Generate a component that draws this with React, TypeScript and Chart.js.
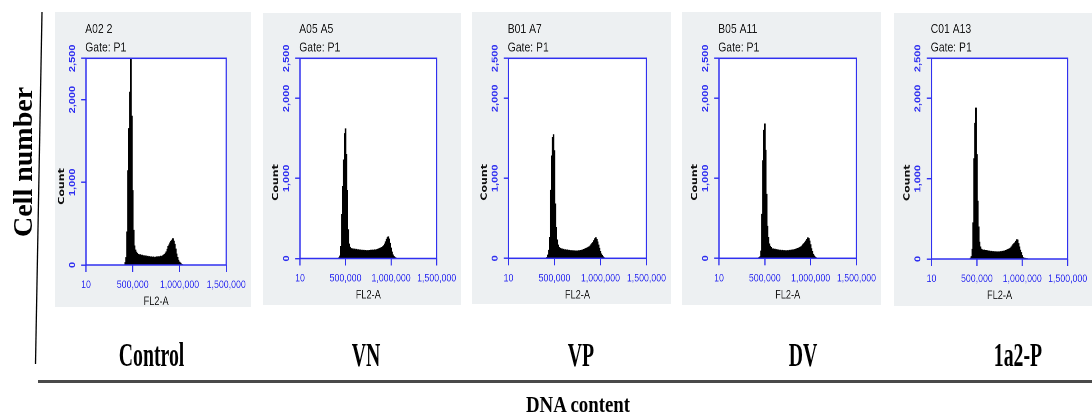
import React, { useEffect, useRef } from 'react';
import { Chart, registerables } from 'chart.js';

Chart.register(...registerables);

// ---------- DATA ----------
// FL2-A bin centres, in thousands
const binCentersK = [
  400, 410, 420, 430, 440, 450, 460, 470, 480, 490,
  500, 510, 520, 530, 540, 550, 560, 570, 580, 590,
  600, 610, 620, 630, 640, 650, 660, 670, 680, 690,
  700, 710, 720, 730, 740, 750, 760, 770, 780, 790,
  800, 810, 820, 830, 840, 850, 860, 870, 880, 890,
  900, 910, 920, 930, 940, 950, 960, 970, 980, 990,
  1000, 1010, 1020, 1030, 1040, 1050, 1060, 1070,
];

const controlCounts = [
  0, 0, 30, 90, 400, 1140, 1650, 2090, 2800, 1800,
  900, 420, 230, 180, 155, 140, 128, 118, 124, 112,
  119, 106, 113, 101, 109, 98, 105, 96, 102, 93,
  99, 91, 97, 89, 95, 92, 99, 93, 101, 96,
  106, 102, 111, 120, 128, 142, 160, 190, 225, 242,
  266, 286, 300, 318, 288, 250, 192, 132, 92, 56,
  36, 25, 12, 5, 0, 0, 0, 0,
];

const vnCounts = [
  0, 0, 0, 10, 30, 150, 550, 900, 1230, 1560,
  1620, 1300, 850, 360, 180, 140, 124, 116, 121, 110,
  117, 108, 114, 104, 110, 101, 106, 98, 104, 97,
  102, 95, 100, 94, 99, 96, 101, 97, 103, 99,
  105, 101, 108, 104, 110, 113, 118, 122, 127, 132,
  138, 148, 160, 180, 208, 240, 262, 270, 242, 190,
  130, 80, 45, 25, 15, 8, 0, 0,
];

const vpCounts = [
  0, 0, 10, 40, 100, 260, 850, 1280, 1510, 1545,
  1345, 680, 385, 230, 165, 135, 124, 113, 118, 107,
  112, 102, 108, 98, 104, 95, 100, 92, 97, 90,
  95, 88, 93, 87, 92, 89, 95, 91, 98, 94,
  101, 105, 110, 116, 121, 127, 133, 138, 145, 156,
  170, 185, 198, 220, 245, 258, 236, 205, 165, 125,
  85, 55, 35, 18, 8, 0, 0, 0,
];

const dvCounts = [
  0, 0, 0, 0, 10, 20, 90, 550, 1220, 1600,
  1680, 1350, 800, 400, 260, 180, 150, 135, 114, 118,
  108, 113, 103, 109, 99, 104, 96, 101, 94, 99,
  92, 97, 90, 95, 92, 97, 94, 100, 96, 103,
  99, 106, 103, 110, 114, 118, 123, 128, 134, 140,
  147, 160, 175, 186, 200, 216, 236, 256, 246, 215,
  170, 120, 85, 50, 30, 15, 8, 0,
];

const a2pCounts = [
  0, 0, 0, 10, 30, 120, 450, 1250, 1690, 1880,
  1300, 720, 400, 210, 150, 122, 114, 106, 111, 101,
  107, 97, 103, 94, 99, 91, 96, 88, 93, 86,
  91, 85, 90, 84, 89, 87, 92, 89, 95, 92,
  98, 101, 106, 111, 117, 122, 128, 134, 148, 163,
  178, 190, 202, 220, 240, 236, 192, 150, 110, 80,
  42, 16, 10, 8, 6, 5, 0, 0,
];

const xTickValuesK = [0, 500, 1000, 1500];
const xTickLabels = ['10', '500,000', '1,000,000', '1,500,000'];
const yTickValues = [0, 1000, 2000, 2500];
const yTickLabels = ['0', '1,000', '2,000', '2,500'];
const sampleNames = ['A02 2', 'A05 A5', 'B01 A7', 'B05 A11', 'C01 A13'];
const gateLabel = 'Gate: P1';
const groupLabels = ['Control', 'VN', 'VP', 'DV', '1a2-P'];
const xAxisTitle = 'FL2-A';
const yAxisTitle = 'Count';
const figureYTitle = 'Cell number';
const figureXTitle = 'DNA content';

const seriesList = [controlCounts, vnCounts, vpCounts, dvCounts, a2pCounts];

// ---------- LAYOUT / STYLE ----------
const SX = 0.8; // horizontal squish of the panels
const BLUE = '#3030f0';
const PANEL_BG = '#edf0f2';
const SANS = '"Liberation Sans", Arial, sans-serif';
const SERIF = '"Liberation Serif", "Times New Roman", serif';

// [left, top, right, bottom] in page pixels
const PANELS = [
  { bg: [55, 12, 251, 307], plot: [86, 58.3, 230, 265] },
  { bg: [263, 13, 461.5, 305], plot: [300, 58.3, 440, 258.5] },
  { bg: [471.5, 12, 671, 303.5], plot: [508, 58.3, 649, 258.3] },
  { bg: [682, 12, 881, 304.5], plot: [719, 58.3, 860, 258.3] },
  { bg: [894, 13, 1092, 306], plot: [931.5, 58.3, 1072, 259] },
];
const GROUP_X = [151.5, 366, 581, 803, 1018];

function makeDecoPlugin(idx: number) {
  return {
    id: 'panelDeco' + idx,
    beforeDraw(chart: any) {
      const { ctx, width, height, chartArea: a } = chart;
      ctx.save();
      ctx.fillStyle = PANEL_BG;
      ctx.fillRect(0, 0, width, height);
      ctx.fillStyle = '#ffffff';
      ctx.fillRect(a.left, a.top, a.right - a.left, a.bottom - a.top);
      ctx.restore();
    },
    afterDraw(chart: any) {
      const { ctx, chartArea: a } = chart;
      ctx.save();
      ctx.strokeStyle = BLUE;
      ctx.lineWidth = 1.5;
      ctx.strokeRect(a.left, a.top, a.right - a.left, a.bottom - a.top);

      ctx.fillStyle = '#1a1a1a';
      ctx.font = '13px ' + SANS;
      ctx.textAlign = 'left';
      ctx.textBaseline = 'middle';
      ctx.fillText(sampleNames[idx], a.left - 1, a.top - 29);
      ctx.fillText(gateLabel, a.left - 1, a.top - 10.5);

      ctx.font = '11.5px ' + SANS;
      ctx.textAlign = 'center';
      ctx.fillText(xAxisTitle, (a.left + a.right) / 2, a.bottom + 37);

      ctx.translate(a.left - 30, a.top + 0.62 * (a.bottom - a.top));
      ctx.rotate(-Math.PI / 2);
      ctx.font = 'bold 11px "DejaVu Sans", sans-serif';
      ctx.fillStyle = '#111';
      ctx.fillText(yAxisTitle, 0, 0);
      ctx.restore();
    },
  };
}

function FlowPanel({ idx, counts }: { idx: number; counts: number[] }) {
  const ref = useRef<HTMLCanvasElement>(null);
  const [bl, bt, br, bb] = PANELS[idx].bg;
  const [pl, pt, pr, pb] = PANELS[idx].plot;
  const W = Math.round((br - bl) / SX);
  const H = Math.round(bb - bt);
  const yAxisW = (pl - bl) / SX;
  const xAxisH = H - (pb - bt);

  useEffect(() => {
    if (!ref.current) return;
    const chart = new Chart(ref.current, {
      type: 'line',
      data: {
        datasets: [
          {
            data: binCentersK.map((x, i) => ({ x, y: counts[i] })),
            stepped: 'middle',
            fill: 'origin',
            backgroundColor: '#000',
            borderColor: '#000',
            borderWidth: 0.9,
            pointRadius: 0,
          },
        ],
      },
      options: {
        responsive: false,
        animation: false,
        devicePixelRatio: 2,
        layout: {
          padding: {
            left: 0,
            right: W - (pr - bl) / SX,
            top: pt - bt,
            bottom: 0,
          },
        },
        plugins: {
          legend: { display: false },
          tooltip: { enabled: false },
          title: { display: false },
        },
        scales: {
          x: {
            type: 'linear',
            min: 0,
            max: 1500,
            afterBuildTicks: (s: any) => {
              s.ticks = xTickValuesK.map((v) => ({ value: v }));
            },
            afterFit: (s: any) => {
              s.height = xAxisH;
            },
            ticks: {
              autoSkip: false,
              maxRotation: 0,
              minRotation: 0,
              padding: 6.5,
              color: BLUE,
              font: { family: SANS, size: 11 },
              callback: (v: any) => {
                const k = xTickValuesK.indexOf(Number(v));
                return k >= 0 ? xTickLabels[k] : '';
              },
            },
            grid: { drawOnChartArea: false, drawTicks: true, tickLength: 7, color: BLUE, lineWidth: 1.4 },
            border: { display: false },
          },
          y: {
            type: 'linear',
            min: 0,
            max: 2500,
            afterBuildTicks: (s: any) => {
              s.ticks = yTickValues.map((v) => ({ value: v }));
            },
            afterFit: (s: any) => {
              s.width = yAxisW;
            },
            ticks: {
              autoSkip: false,
              minRotation: 90,
              maxRotation: 90,
              crossAlign: 'center',
              padding: -3,
              color: BLUE,
              font: { family: SANS, size: 11, weight: 'bold' },
              callback: (v: any) => {
                const k = yTickValues.indexOf(Number(v));
                return k >= 0 ? yTickLabels[k] : '';
              },
            },
            grid: { drawOnChartArea: false, drawTicks: true, tickLength: 6, color: BLUE, lineWidth: 1.4 },
            border: { display: false },
          },
        },
      } as any,
      plugins: [makeDecoPlugin(idx)],
    });
    return () => chart.destroy();
  }, []);

  return (
    <div
      style={{
        position: 'absolute',
        left: bl,
        top: bt,
        width: br - bl,
        height: H,
        overflow: 'hidden',
      }}
    >
      <div style={{ width: W, height: H, transform: `scaleX(${SX})`, transformOrigin: '0 0' }}>
        <canvas ref={ref} width={W} height={H} style={{ display: 'block', width: W, height: H }} />
      </div>
    </div>
  );
}

export default function App() {
  return (
    <div
      style={{
        position: 'absolute',
        left: 0,
        top: 0,
        width: 1092,
        height: 414,
        background: '#ffffff',
        overflow: 'hidden',
      }}
    >
      {seriesList.map((c, i) => (
        <FlowPanel key={i} idx={i} counts={c} />
      ))}
      <svg
        width={1092}
        height={414}
        style={{ position: 'absolute', left: 0, top: 0, pointerEvents: 'none' }}
      >
        <line x1={42} y1={12} x2={35.5} y2={364} stroke="#000" strokeWidth={1.3} />
        <line x1={38} y1={381.5} x2={1092} y2={381.5} stroke="#4a4a4a" strokeWidth={3} />
        <text
          transform="translate(32,162) rotate(-90)"
          textAnchor="middle"
          fontFamily={SERIF}
          fontWeight="bold"
          fontSize={28}
          fill="#000"
        >
          {figureYTitle}
        </text>
        {groupLabels.map((g, i) => (
          <text
            key={g}
            transform={`translate(${GROUP_X[i]},366) scale(0.6,1)`}
            textAnchor="middle"
            fontFamily={SERIF}
            fontWeight="bold"
            fontSize={33}
            fill="#000"
          >
            {g}
          </text>
        ))}
        <text
          transform="translate(578,412) scale(0.82,1)"
          textAnchor="middle"
          fontFamily={SERIF}
          fontWeight="bold"
          fontSize={23}
          fill="#000"
        >
          {figureXTitle}
        </text>
      </svg>
    </div>
  );
}
